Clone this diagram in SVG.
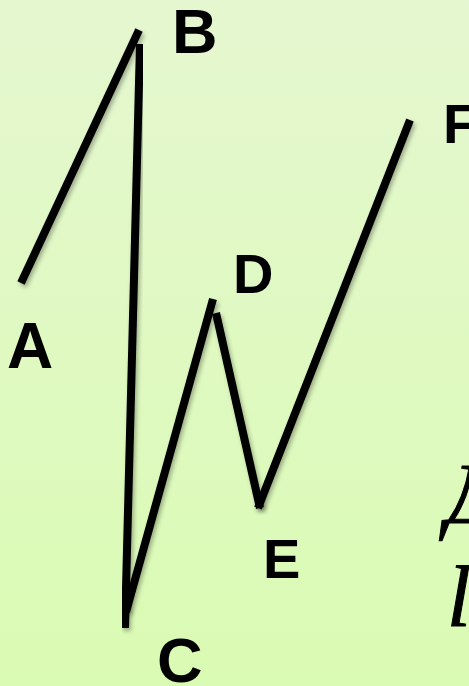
<svg xmlns="http://www.w3.org/2000/svg" width="469" height="686" viewBox="0 0 469 686">
<defs>
<linearGradient id="bg" x1="0" y1="0" x2="0" y2="1">
<stop offset="0" stop-color="#e5f7d0"/>
<stop offset="1" stop-color="#dafbb3"/>
</linearGradient>
<filter id="sh" x="-20%" y="-20%" width="140%" height="140%">
<feDropShadow dx="2" dy="3" stdDeviation="2" flood-color="#000" flood-opacity="0.3"/>
</filter>
<style>
.seg{stroke:#000;stroke-width:8;stroke-linecap:butt;fill:none;filter:url(#sh)}
.lbl{font-family:"Liberation Sans",Arial,sans-serif;font-weight:bold;fill:#000}
.math{font-family:"Liberation Serif","Times New Roman",serif;font-style:italic;font-size:86px;fill:#000;stroke:#000;stroke-width:1}
</style>
</defs>
<rect width="469" height="686" fill="url(#bg)"/>
<g id="connectors">
<line class="seg" x1="21" y1="283" x2="139" y2="30"/>
<line class="seg" x1="140" y1="44" x2="125" y2="628"/>
<line class="seg" x1="126" y1="612" x2="213" y2="299"/>
<line class="seg" x1="216" y1="313" x2="260" y2="508"/>
<line class="seg" x1="258" y1="508" x2="410" y2="120"/>
</g>
<g id="A"><text class="lbl" x="7" y="368" font-size="64">A</text></g>
<g id="B"><text class="lbl" x="172" y="53" font-size="63">B</text></g>
<g id="C"><text class="lbl" x="157" y="682" font-size="63">C</text></g>
<g id="D"><text class="lbl" x="233" y="293" font-size="56">D</text></g>
<g id="E"><text class="lbl" x="263" y="578" font-size="56">E</text></g>
<g id="F"><text class="lbl" x="443" y="143" font-size="56">F</text></g>
<g id="formula">
<text class="math" x="446" y="523">Д</text>
<text class="math" x="447" y="626">l</text>
</g>
</svg>
